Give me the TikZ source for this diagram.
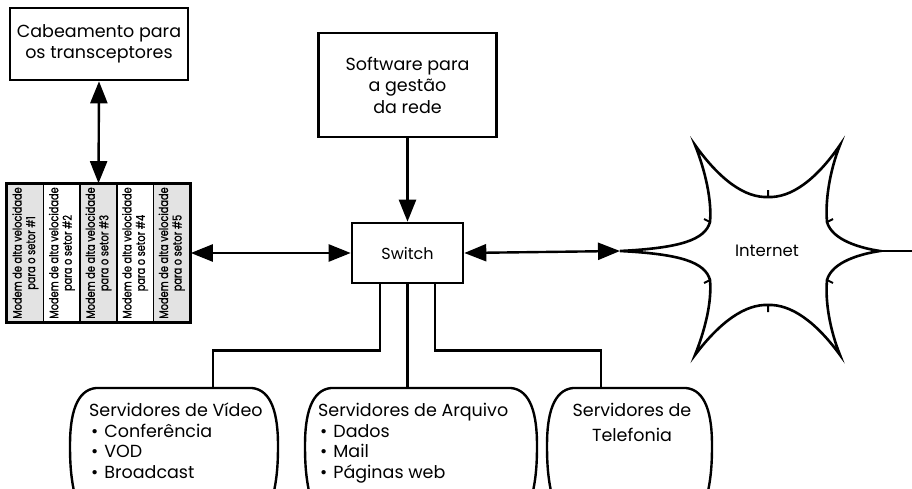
\documentclass[tikz,border=0pt]{standalone}
\usepackage{fontspec}
\setmainfont{Poppins}
\newfontfamily\modemfont[FakeStretch=0.8, FakeBold=1.2]{Poppins}
\usetikzlibrary{arrows.meta}

% outline of a server block: left x, right x
\newcommand{\srvshape}[2]{%
  \draw[srvline] (#1+6,500) .. controls (#1+1,480) and (#1,465) .. (#1,445)
    .. controls (#1,415) and (#1+6,390) .. (#1+26,388) -- (#2-26,388)
    .. controls (#2-6,390) and (#2,415) .. (#2,445)
    .. controls (#2,465) and (#2-1,480) .. (#2-6,500);}

\begin{document}
\begin{tikzpicture}[x=1pt, y=-1pt,
    box/.style={draw, line width=2.6pt, align=center, inner sep=0pt,
      font=\fontsize{17.5}{21.5}\selectfont},
    modem/.style={draw, line width=1.6pt, minimum width=36.6pt,
      minimum height=138pt, inner sep=0pt},
    link/.style={line width=2.4pt},
    tip/.style={-{Triangle[length=22pt,width=17pt]}},
    both/.style={{Triangle[length=22pt,width=17pt]}-{Triangle[length=22pt,width=17pt]}},
    srvline/.style={line width=2.4pt},
    srvtext/.style={align=left, inner sep=0pt, font=\fontsize{17.5}{20.5}\selectfont}]
  \useasboundingbox (0,0) rectangle (912,489);

  % Boxes
  \node[box, minimum width=178pt, minimum height=72pt] (cab) at (99,44)
    {Cabeamento para\\os transceptores};
  \node[box, minimum width=178pt, minimum height=104pt] (soft) at (407.5,85)
    {Software para\\a gestão\\da rede};
  \node[box, minimum width=111pt, minimum height=60pt,
    font=\fontsize{16}{20}\selectfont] (sw) at (407.5,253) {Switch};

  % Modem stack
  \foreach \i in {1,...,5} {
    \pgfmathsetmacro{\shade}{mod(\i,2)==1 ? 22 : 0}
    \node[modem, fill=gray!\shade] (m\i) at (7+36.6*\i-18.3,253) {};
    \node[rotate=90, align=center, inner sep=0pt,
      font=\modemfont\fontsize{12.2}{13.5}\selectfont] at (m\i)
      {Modem de alta velocidade\\para o setor \#\i};
  }
  \draw[line width=2.6pt] (m1.north west) rectangle (m5.south east);

  % Internet
  \node[font=\fontsize{16.5}{20}\selectfont] (inet) at (767,251) {Internet};
  \coordinate (inetL) at (620,251);
  \draw[line width=2.6pt] (inetL)
    .. controls (680,248) and (705,240) .. (710,222)
    .. controls (712,200) and (705,170) .. (695,145)
    .. controls (720,180) and (745,198) .. (768,197)
    .. controls (791,198) and (816,180) .. (840,145)
    .. controls (830,170) and (825,200) .. (827,222)
    .. controls (832,240) and (860,248) .. (880,251)
    .. controls (860,254) and (832,262) .. (827,280)
    .. controls (825,302) and (830,330) .. (840,355)
    .. controls (816,322) and (791,304) .. (768,305)
    .. controls (745,304) and (720,322) .. (695,355)
    .. controls (705,330) and (712,302) .. (710,280)
    .. controls (705,262) and (680,254) .. (inetL);
  \draw[line width=2.6pt] (880,251) -- (912,251);
  \draw[line width=2pt] (768,197) -- (768,190) (768,305) -- (768,312)
    (710,222) -- (704,219) (710,280) -- (704,283)
    (827,222) -- (833,219) (827,280) -- (833,283);

  % Servers
  \srvshape{70}{278}
  \srvshape{305}{537}
  \srvshape{547}{712}
  \coordinate (vidtop) at (213,388);
  \coordinate (arqtop) at (407.5,388);
  \coordinate (teltop) at (601,388);
  \node[srvtext, anchor=north west] (vid) at (89,403)
    {Servidores de Vídeo\\\hspace{2pt}•\hspace{6pt}Conferência\\
     \hspace{2pt}•\hspace{6pt}VOD\\\hspace{2pt}•\hspace{6pt}Broadcast};
  \node[srvtext, anchor=north west] (arq) at (318,403)
    {Servidores de Arquivo\\\hspace{2pt}•\hspace{6pt}Dados\\
     \hspace{2pt}•\hspace{6pt}Mail\\\hspace{2pt}•\hspace{6pt}Páginas web};
  \node[srvtext, align=center, anchor=north, font=\fontsize{17.5}{25}\selectfont]
    (tel) at (632,403) {Servidores de\\Telefonia};

  % Connections
  \draw[link, both] (cab.south) -- (m3.north);
  \draw[link, tip] (soft) -- (sw);
  \draw[link, both] (m5.east) -- (sw.west);
  \draw[link, both] (sw.east) -- (inetL);
  \draw[link] ([xshift=-27.5pt]sw.south) -- ++(0,66) -| (vidtop);
  \draw[link] (sw.south) -- (arqtop);
  \draw[link] ([xshift=27.5pt]sw.south) -- ++(0,66) -| (teltop);
\end{tikzpicture}
\end{document}
